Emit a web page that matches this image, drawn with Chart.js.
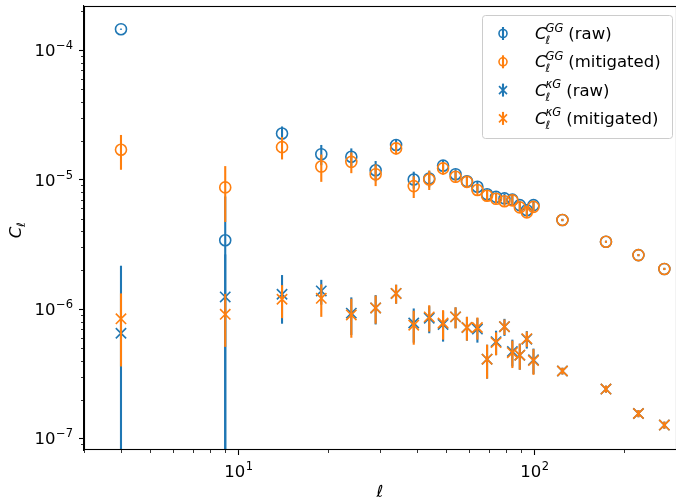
<!DOCTYPE html>
<html><head><meta charset="utf-8">
<script src="https://cdn.jsdelivr.net/npm/chart.js@4.4.1/dist/chart.umd.min.js"></script>
<style>html,body{margin:0;padding:0;background:#fff}#wrap{width:676px;height:504px}</style>
</head><body><div id="wrap"><canvas id="c" width="676" height="504"></canvas></div>
<script>
const ell = [4,9,14,19,24,29,34,39,44,49,54,59,64,69,74,79,84,89,94,99,124,174,224,274];

const ggRaw    = [1.45e-4,3.4e-6,2.27e-5,1.57e-5,1.50e-5,1.18e-5,1.85e-5,1.00e-5,1.02e-5,1.28e-5,1.10e-5,9.7e-6,8.8e-6,7.7e-6,7.35e-6,7.15e-6,7.0e-6,6.35e-6,5.8e-6,6.35e-6,4.87e-6,3.31e-6,2.61e-6,2.04e-6];
const ggRawErr = [1.5e-6,4.0e-6,3.0e-6,2.8e-6,2.4e-6,2.1e-6,1.8e-6,1.5e-6,1.5e-6,1.3e-6,1.0e-6,8e-7,8e-7,7e-7,6e-7,6e-7,6e-7,5e-7,5e-7,5e-7,1.0e-7,6e-8,5e-8,4e-8];

const ggMit    = [1.70e-5,8.7e-6,1.78e-5,1.26e-5,1.37e-5,1.10e-5,1.74e-5,8.9e-6,1.00e-5,1.22e-5,1.05e-5,9.6e-6,8.3e-6,7.5e-6,7.1e-6,6.8e-6,6.9e-6,6.1e-6,5.58e-6,6.15e-6,4.87e-6,3.31e-6,2.61e-6,2.04e-6];
const ggMitErr = [5.1e-6,4.0e-6,3.5e-6,3.0e-6,2.5e-6,2.1e-6,1.8e-6,1.7e-6,1.7e-6,1.3e-6,1.0e-6,8e-7,8e-7,7e-7,6e-7,6e-7,6e-7,5e-7,5e-7,5e-7,1.0e-7,6e-8,5e-8,4e-8];

const kgRaw    = [6.5e-7,1.24e-6,1.30e-6,1.38e-6,9.3e-7,1.02e-6,1.32e-6,7.8e-7,8.5e-7,7.6e-7,8.7e-7,7.2e-7,7.0e-7,4.1e-7,5.6e-7,7.3e-7,4.7e-7,4.4e-7,5.85e-7,4.05e-7,3.32e-7,2.41e-7,1.56e-7,1.27e-7];
const kgRawErr = [1.51e-6,1.4e-6,5.3e-7,3.0e-7,3.0e-7,2.6e-7,2.2e-7,2.3e-7,2.0e-7,2.0e-7,1.6e-7,1.5e-7,1.5e-7,1.2e-7,1.2e-7,1.1e-7,1.1e-7,1.0e-7,9e-8,9e-8,2e-8,1.5e-8,1.0e-8,8e-9];

const kgMit    = [8.4e-7,9.1e-7,1.19e-6,1.21e-6,9.0e-7,1.02e-6,1.32e-6,7.5e-7,8.7e-7,7.8e-7,8.7e-7,7.2e-7,7.2e-7,4.1e-7,5.5e-7,7.3e-7,4.6e-7,4.4e-7,5.9e-7,4.0e-7,3.32e-7,2.41e-7,1.56e-7,1.27e-7];
const kgMitErr = [4.8e-7,4.0e-7,3.4e-7,3.4e-7,3.0e-7,2.5e-7,2.2e-7,2.2e-7,2.0e-7,2.0e-7,1.6e-7,1.5e-7,1.4e-7,1.2e-7,1.1e-7,1.0e-7,1.1e-7,1.0e-7,8e-8,9e-8,2e-8,1.5e-8,1.0e-8,8e-9];

const seriesLabels = ['(raw)','(mitigated)','(raw)','(mitigated)'];
const seriesSup = ['GG','GG','\u03BAG','\u03BAG'];

const xMajorTicks = [10,100];
const xTickBase = ['10','10'];
const xTickExp  = ['1','2'];
const yMajorTicks = [1e-7,1e-6,1e-5,1e-4];
const yTickBase = ['10','10','10','10'];
const yTickExp  = ['\u22127','\u22126','\u22125','\u22124'];

const BLUE = '#1f77b4', ORANGE = '#ff7f0e';
const FONT = "'DejaVu Sans', sans-serif";
const FS = 16.5, FSS = 11.5;

function logTicks(min, max){
  const out = [];
  for (let e = Math.floor(Math.log10(min)); e <= Math.ceil(Math.log10(max)); e++){
    for (let m = 1; m <= 9; m++){
      const v = m * Math.pow(10, e);
      if (v >= min*0.9999 && v <= max*1.0001) out.push({value: v});
    }
  }
  return out;
}
function isMajor(v){ const l = Math.log10(v); return Math.abs(l - Math.round(l)) < 1e-6; }

const pts = (ys) => ell.map((x,i)=>({x:x, y:ys[i]}));

const errPlugin = {
  id:'errbars',
  beforeDatasetDraw(chart, args){
    const ds = chart.data.datasets[args.index];
    if (!ds.errs) return;
    const {ctx, chartArea:a} = chart;
    const xs = chart.scales.x, ys = chart.scales.y;
    ctx.save();
    ctx.beginPath(); ctx.rect(a.left, a.top, a.right-a.left, a.bottom-a.top); ctx.clip();
    ctx.strokeStyle = ds.borderColor; ctx.lineWidth = 2.1; ctx.lineCap = 'butt';
    ds.data.forEach((p,i)=>{
      const px = xs.getPixelForValue(p.x);
      const hi = p.y + ds.errs[i], lo = p.y - ds.errs[i];
      const pyHi = ys.getPixelForValue(hi);
      const pyLo = lo > 0 ? ys.getPixelForValue(lo) : a.bottom + 5;
      ctx.beginPath(); ctx.moveTo(px, pyHi); ctx.lineTo(px, pyLo); ctx.stroke();
    });
    ctx.restore();
  }
};

function drawPow(ctx, base, exp, x, y, align){
  ctx.font = FS + 'px ' + FONT;
  const wb = ctx.measureText(base).width;
  ctx.font = FSS + 'px ' + FONT;
  const we = ctx.measureText(exp).width;
  const w = wb + we + 0.5;
  let x0 = align === 'right' ? x - w : x - w/2;
  ctx.textAlign = 'left';
  ctx.font = FS + 'px ' + FONT;
  ctx.fillText(base, x0, y);
  ctx.font = FSS + 'px ' + FONT;
  ctx.fillText(exp, x0 + wb + 0.5, y - 7);
}

const decoPlugin = {
  id:'deco',
  afterDatasetsDraw(chart){
    const {ctx, chartArea:a} = chart;
    ctx.save();
    ctx.strokeStyle = '#000'; ctx.lineWidth = 1.1;
    ctx.strokeRect(a.left+0.5, a.top+0.5, a.right-a.left, a.bottom-a.top-1);
    ctx.restore();
  },
  afterDraw(chart){
    const {ctx, chartArea:a} = chart;
    const xs = chart.scales.x, ys = chart.scales.y;
    ctx.save();
    ctx.strokeStyle = '#000'; ctx.lineWidth = 0.8;
    xs.ticks.forEach(t=>{ if (!isMajor(t.value)){ const px = Math.round(xs.getPixelForValue(t.value))+0.5; ctx.beginPath(); ctx.moveTo(px, a.bottom); ctx.lineTo(px, a.bottom+3); ctx.stroke(); }});
    ys.ticks.forEach(t=>{ if (!isMajor(t.value)){ const py = Math.round(ys.getPixelForValue(t.value))+0.5; ctx.beginPath(); ctx.moveTo(a.left-3, py); ctx.lineTo(a.left, py); ctx.stroke(); }});
    ctx.fillStyle = '#000'; ctx.textBaseline = 'alphabetic';
    xMajorTicks.forEach((v,i)=>{ drawPow(ctx, xTickBase[i], xTickExp[i], xs.getPixelForValue(v), a.bottom + 27, 'center'); });
    yMajorTicks.forEach((v,i)=>{ drawPow(ctx, yTickBase[i], yTickExp[i], a.left - 11, ys.getPixelForValue(v) + 6, 'right'); });
    ctx.font = 'italic ' + FS + 'px ' + FONT;
    ctx.textAlign = 'center';
    ctx.fillText('\u2113', (a.left+a.right)/2, 497);
    ctx.save();
    ctx.translate(21, (a.top+a.bottom)/2 + 2);
    ctx.rotate(-Math.PI/2);
    ctx.textAlign = 'left';
    ctx.font = 'italic ' + FS + 'px ' + FONT;
    const wC = ctx.measureText('C').width;
    ctx.font = 'italic ' + FSS + 'px ' + FONT;
    const wL = ctx.measureText('\u2113').width;
    const x0 = -(wC + wL)/2;
    ctx.font = 'italic ' + FS + 'px ' + FONT;
    ctx.fillText('C', x0, 0);
    ctx.font = 'italic ' + FSS + 'px ' + FONT;
    ctx.fillText('\u2113', x0 + wC - 0.5, 4);
    ctx.restore();
    const L = 482, T = 15, R = 672, B = 138;
    ctx.beginPath();
    if (ctx.roundRect) ctx.roundRect(L+0.5, T+0.5, R-L, B-T, 3); else ctx.rect(L+0.5, T+0.5, R-L, B-T);
    ctx.fillStyle = 'rgba(255,255,255,0.8)'; ctx.fill();
    ctx.strokeStyle = '#cccccc'; ctx.lineWidth = 1; ctx.stroke();
    const colors = [BLUE, ORANGE, BLUE, ORANGE];
    for (let i = 0; i < 4; i++){
      const base = 39 + i*28.3;
      const cy = base - 5.5;
      const mx = 503;
      ctx.strokeStyle = colors[i]; ctx.lineWidth = 2.1;
      ctx.beginPath(); ctx.moveTo(mx, cy-6.5); ctx.lineTo(mx, cy+6.5); ctx.stroke();
      ctx.lineWidth = 1.6;
      if (i < 2){
        ctx.beginPath(); ctx.arc(mx, cy, 4, 0, Math.PI*2); ctx.stroke();
      } else {
        ctx.beginPath(); ctx.moveTo(mx-4, cy-4); ctx.lineTo(mx+4, cy+4); ctx.moveTo(mx-4, cy+4); ctx.lineTo(mx+4, cy-4); ctx.stroke();
      }
      ctx.fillStyle = '#000'; ctx.textAlign = 'left';
      let tx = 535;
      ctx.font = 'italic ' + FS + 'px ' + FONT;
      ctx.fillText('C', tx, base);
      tx += ctx.measureText('C').width - 1;
      ctx.font = 'italic ' + FSS + 'px ' + FONT;
      ctx.fillText(seriesSup[i], tx, base - 7.5);
      const wSup = ctx.measureText(seriesSup[i]).width;
      ctx.fillText('\u2113', tx, base + 5);
      tx += wSup + 5;
      ctx.font = FS + 'px ' + FONT;
      ctx.fillText(seriesLabels[i], tx, base);
    }
    ctx.restore();
  }
};

new Chart(document.getElementById('c'), {
  type: 'scatter',
  data: {
    datasets: [
      {label:'GG raw', data: pts(ggRaw), errs: ggRawErr, pointStyle:'circle', pointRadius:5.5, pointHoverRadius:5.5,
       borderColor: BLUE, pointBorderColor: BLUE, pointBackgroundColor:'rgba(0,0,0,0)', pointBorderWidth:1.6, showLine:false, order:4},
      {label:'GG mitigated', data: pts(ggMit), errs: ggMitErr, pointStyle:'circle', pointRadius:5.5, pointHoverRadius:5.5,
       borderColor: ORANGE, pointBorderColor: ORANGE, pointBackgroundColor:'rgba(0,0,0,0)', pointBorderWidth:1.6, showLine:false, order:3},
      {label:'kG raw', data: pts(kgRaw), errs: kgRawErr, pointStyle:'crossRot', pointRadius:7.3, pointHoverRadius:7.3,
       borderColor: BLUE, pointBorderColor: BLUE, pointBackgroundColor: BLUE, pointBorderWidth:1.6, showLine:false, order:2},
      {label:'kG mitigated', data: pts(kgMit), errs: kgMitErr, pointStyle:'crossRot', pointRadius:7.3, pointHoverRadius:7.3,
       borderColor: ORANGE, pointBorderColor: ORANGE, pointBackgroundColor: ORANGE, pointBorderWidth:1.6, showLine:false, order:1}
    ]
  },
  options: {
    responsive:false, maintainAspectRatio:false, animation:false, devicePixelRatio:1,
    layout:{autoPadding:false, padding:{top:6, right:0, bottom:0, left:0}},
    plugins:{legend:{display:false}, tooltip:{enabled:false}},
    events: [],
    scales:{
      x:{type:'logarithmic', position:'bottom', min:3, max:300,
         afterFit(s){ s.height = 54; s.paddingLeft = 0; s.paddingRight = 0; },
         afterBuildTicks(s){ s.ticks = logTicks(3, 300); },
         grid:{display:true, drawOnChartArea:false, drawTicks:true, tickLength:5, tickWidth:1.1,
               tickColor:(c)=> (c.tick && isMajor(c.tick.value)) ? '#000' : 'rgba(0,0,0,0)'},
         border:{display:true, color:'#000', width:1.1},
         ticks:{display:false, autoSkip:false, maxRotation:0, minRotation:0}},
      y:{type:'logarithmic', position:'left', min:8.15e-8, max:2.19e-4,
         afterFit(s){ s.width = 84; s.paddingTop = 0; s.paddingBottom = 0; },
         afterBuildTicks(s){ s.ticks = logTicks(8.15e-8, 2.19e-4); },
         grid:{display:true, drawOnChartArea:false, drawTicks:true, tickLength:5, tickWidth:1.1,
               tickColor:(c)=> (c.tick && isMajor(c.tick.value)) ? '#000' : 'rgba(0,0,0,0)'},
         border:{display:true, color:'#000', width:1.1},
         ticks:{display:false, autoSkip:false}}
    }
  },
  plugins:[errPlugin, decoPlugin]
});
</script></body></html>
